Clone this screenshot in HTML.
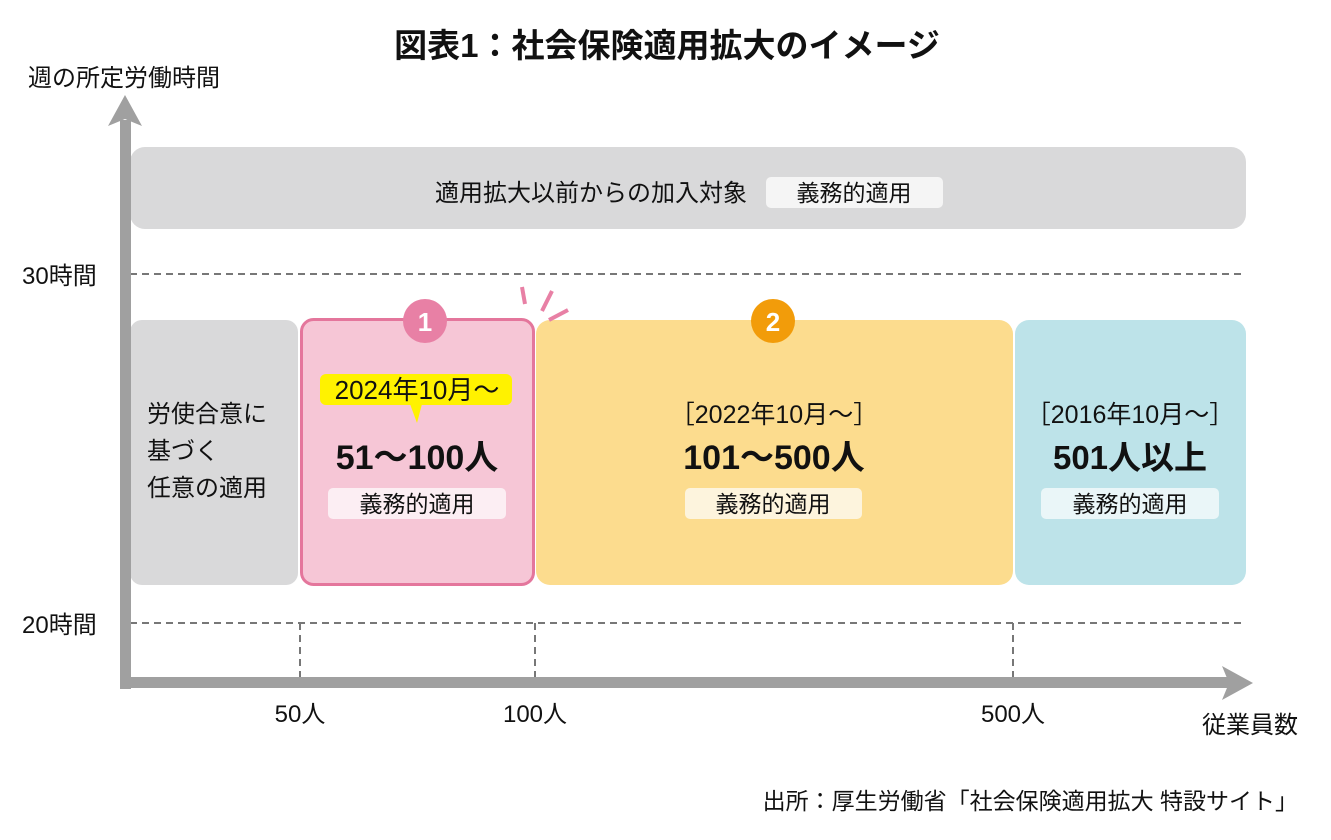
<!DOCTYPE html>
<html><head><meta charset="utf-8"><style>
html,body{margin:0;padding:0;background:#fff;}
svg{display:block;}
text{font-family:"Liberation Sans","Noto Sans CJK JP",sans-serif;fill:#111;}
</style></head><body>
<svg width="1331" height="840" viewBox="0 0 1331 840" xmlns="http://www.w3.org/2000/svg">
<text x="667" y="57" font-size="33" font-weight="bold" text-anchor="middle">図表1：社会保険適用拡大のイメージ</text>
<text x="28" y="86" font-size="24">週の所定労働時間</text>
<!-- top band -->
<rect x="130" y="147" width="1116" height="82" rx="15" fill="#d9d9da"/>
<text x="591" y="201" font-size="24" text-anchor="middle">適用拡大以前からの加入対象</text>
<rect x="766" y="177" width="177" height="31" rx="5" fill="#f5f5f5"/>
<text x="854" y="201" font-size="23" text-anchor="middle">義務的適用</text>
<!-- dashed lines -->
<g stroke="#777" stroke-width="2" stroke-dasharray="7,5" fill="none">
<line x1="130" y1="274" x2="1242" y2="274"/>
<line x1="130" y1="623" x2="1242" y2="623"/>
<line x1="300" y1="623" x2="300" y2="680"/>
<line x1="535" y1="623" x2="535" y2="680"/>
<line x1="1013" y1="623" x2="1013" y2="680"/>
</g>
<text x="22" y="284" font-size="24">30時間</text>
<text x="22" y="633" font-size="24">20時間</text>
<!-- boxes -->
<rect x="130" y="320" width="168" height="265" rx="12" fill="#d9d9da"/>
<text x="147" y="422" font-size="24">労使合意に</text>
<text x="147" y="459" font-size="24">基づく</text>
<text x="147" y="496" font-size="24">任意の適用</text>
<rect x="536" y="320" width="477" height="265" rx="14" fill="#fcdc8e"/>
<rect x="1015" y="320" width="231" height="265" rx="14" fill="#bde3e9"/>
<rect x="301.5" y="319.5" width="232" height="265" rx="12" fill="#f6c6d6" stroke="#e4769c" stroke-width="3"/>
<!-- badges -->
<circle cx="425" cy="321" r="22" fill="#e880a5"/>
<text x="425" y="331" font-size="26" font-weight="bold" text-anchor="middle" style="fill:#fff">1</text>
<circle cx="773" cy="321" r="22" fill="#f29c0a"/>
<text x="773" y="331" font-size="26" font-weight="bold" text-anchor="middle" style="fill:#fff">2</text>
<!-- sparks -->
<g stroke="#e880a5" stroke-width="4">
<line x1="522" y1="287" x2="525" y2="304"/>
<line x1="552" y1="291" x2="542" y2="311"/>
<line x1="568" y1="310" x2="549" y2="320"/>
</g>
<!-- pink box content -->
<rect x="320" y="374" width="192" height="31" rx="6" fill="#fff200"/>
<polygon points="410,404 422,404 417,423" fill="#fff200"/>
<text x="417" y="399" font-size="26" text-anchor="middle">2024年10月～</text>
<text x="417" y="469" font-size="34" font-weight="bold" text-anchor="middle">51～100人</text>
<rect x="328" y="488" width="178" height="31" rx="5" fill="#fceef3"/>
<text x="417" y="512" font-size="23" text-anchor="middle">義務的適用</text>
<!-- yellow content -->
<text x="774" y="423" font-size="25" text-anchor="middle">［2022年10月～］</text>
<text x="774" y="469" font-size="34" font-weight="bold" text-anchor="middle">101～500人</text>
<rect x="685" y="488" width="177" height="31" rx="5" fill="#fdf4dd"/>
<text x="773" y="512" font-size="23" text-anchor="middle">義務的適用</text>
<!-- blue content -->
<text x="1130" y="423" font-size="25" text-anchor="middle">［2016年10月～］</text>
<text x="1130" y="469" font-size="33" font-weight="bold" text-anchor="middle">501人以上</text>
<rect x="1041" y="488" width="178" height="31" rx="5" fill="#eaf6f8"/>
<text x="1130" y="512" font-size="23" text-anchor="middle">義務的適用</text>
<!-- axes -->
<rect x="120" y="120" width="11" height="569" fill="#a0a0a0"/>
<polygon points="125,95 108,126 125,119 142,126" fill="#a0a0a0"/>
<rect x="120" y="677" width="1110" height="11" fill="#a0a0a0"/>
<polygon points="1253,683 1222,666 1229,683 1222,700" fill="#a0a0a0"/>
<text x="300" y="722" font-size="24" text-anchor="middle">50人</text>
<text x="535" y="722" font-size="24" text-anchor="middle">100人</text>
<text x="1013" y="722" font-size="24" text-anchor="middle">500人</text>
<text x="1298" y="733" font-size="24" text-anchor="end">従業員数</text>
<text x="1298" y="809" font-size="23" text-anchor="end">出所：厚生労働省「社会保険適用拡大 特設サイト」</text>
</svg>
</body></html>
